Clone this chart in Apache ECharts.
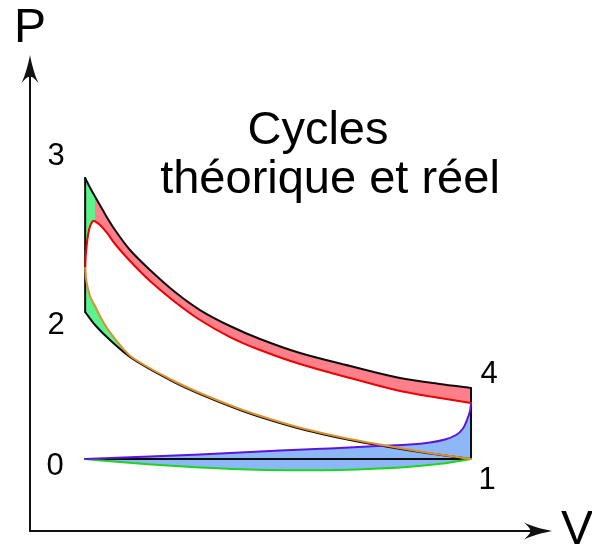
<!DOCTYPE html>
<html>
<head>
<meta charset="utf-8">
<script src="https://cdn.jsdelivr.net/npm/echarts@6/dist/echarts.min.js"></script>
<style>
  html, body { margin: 0; padding: 0; background: #ffffff; }
  #chart { width: 592px; height: 549px; }
</style>
</head>
<body>
<div id="chart"></div>
<script>
// P–V diagram of a four-stroke engine: theoretical cycle (black) and real cycle (colours).
// Volume V and pressure P in arbitrary units (V = 1 at TDC, V = 8 at BDC, P = 1 atmospheric).

const STATE_LABELS = ['0', '1', '2', '3', '4'];
const STATE_POINTS = [[1, 1], [8, 1], [1, 3.042], [1, 4.903], [8, 1.986]];

// Theoretical cycle
const THEO_EXPANSION = [   // 3 -> 4
  [1.000, 4.903], [1.088, 4.771], [1.179, 4.646], [1.361, 4.403], [1.542, 4.181],
  [1.814, 3.903], [2.177, 3.625], [2.630, 3.319], [3.084, 3.069], [3.628, 2.847],
  [4.172, 2.667], [4.898, 2.472], [5.805, 2.292], [6.712, 2.125], [7.438, 2.042],
  [8.000, 1.986]
];
const THEO_COMPRESSION = [ // 2 -> 1
  [1.000, 3.042], [1.179, 2.861], [1.451, 2.653], [1.868, 2.389], [2.540, 2.097],
  [3.084, 1.903], [3.810, 1.681], [4.354, 1.542], [4.989, 1.403], [5.624, 1.292],
  [6.295, 1.194], [7.075, 1.097], [8.000, 1.000]
];
const THEO_COMBUSTION = [[1, 3.042], [1, 4.903]];  // 2 -> 3
const THEO_RELEASE = [[8, 1.986], [8, 1]];         // 4 -> 1
const THEO_EXCHANGE = [[1, 1], [8, 1]];            // 0 <-> 1

// Real cycle
const REAL_EXPANSION = [   // ignition, pressure peak, expansion
  [1.000, 3.653], [1.009, 3.806], [1.027, 3.958], [1.056, 4.125], [1.094, 4.243],
  [1.143, 4.306], [1.179, 4.301], [1.270, 4.250], [1.397, 4.139], [1.542, 3.986],
  [1.814, 3.750], [2.177, 3.472], [2.630, 3.181], [3.084, 2.931], [3.628, 2.694],
  [4.172, 2.514], [4.898, 2.319], [5.805, 2.125], [6.712, 1.944], [7.438, 1.847],
  [8.000, 1.778]
];
const REAL_COMPRESSION = [ // from ignition back down to BDC
  [1.000, 3.653], [1.025, 3.458], [1.088, 3.264], [1.179, 3.125], [1.288, 2.958],
  [1.397, 2.819], [1.633, 2.583], [1.868, 2.403], [2.540, 2.111], [3.084, 1.917],
  [3.810, 1.694], [4.354, 1.556], [4.989, 1.417], [5.624, 1.306], [6.295, 1.208],
  [7.075, 1.104], [8.000, 1.000]
];
const REAL_EXHAUST = [
  [8.000, 1.778], [7.982, 1.667], [7.927, 1.542], [7.855, 1.424], [7.728, 1.333],
  [7.528, 1.271], [7.256, 1.229], [6.893, 1.201], [6.295, 1.181], [5.442, 1.146],
  [4.535, 1.118], [3.810, 1.090], [3.084, 1.063], [2.177, 1.035], [1.000, 1.000]
];
const REAL_INTAKE = [
  [1.000, 1.000], [1.633, 0.958], [2.413, 0.914], [3.084, 0.882], [3.810, 0.857],
  [4.717, 0.843], [5.624, 0.847], [6.349, 0.867], [6.893, 0.892], [7.438, 0.933],
  [8.000, 1.000]
];

// Indices where the fills split the curves
const SPLIT_THEO_EXP = 2;   // green / red boundary on the theoretical expansion
const SPLIT_REAL_EXP = 6;   // same boundary on the real expansion
const SPLIT_THEO_COMP = 3;  // where the real compression joins the theoretical one
const SPLIT_REAL_COMP = 7;

const LABEL_OFFSETS = [[-30, 7], [16, 21], [-29, 13], [-29, -22], [18, -14]];

const COLORS = {
  axis: '#111111', theo: '#0d0d0d', text: '#000000',
  red: '#ee0000', orange: '#dc9030', purple: '#5a16dc', green: '#1ed41e',
  fillGreen: '#5cf28c', fillRed: '#ff7f8b', fillBlue: '#8db8f8'
};
const FONT = '"Liberation Sans", Arial, sans-serif';
const ARROW = 'path://M8.5,0C10,8 13,20 17,28C13,23.5 10.5,21.5 8.5,21.5C6.5,21.5 4,23.5 0,28C4,20 7,8 8.5,0Z';

// ---- smooth path helpers (pixel space) ----
function dist(a, b) { return Math.hypot(b[0] - a[0], b[1] - a[1]); }
function tangentsOf(pts) {
  const n = pts.length, T = [];
  for (let i = 0; i < n; i++) {
    const a = pts[Math.max(0, i - 1)], b = pts[Math.min(n - 1, i + 1)];
    const l0 = i > 0 ? dist(pts[i - 1], pts[i]) : 0;
    const l1 = i < n - 1 ? dist(pts[i], pts[i + 1]) : 0;
    const s = (l0 + l1) || 1;
    T.push([(b[0] - a[0]) / s, (b[1] - a[1]) / s]);
  }
  return T;
}
function fmt(p) { return p[0].toFixed(2) + ' ' + p[1].toFixed(2); }
function trace(cmds, pts, from, to, move) {
  const T = tangentsOf(pts);
  const step = to >= from ? 1 : -1;
  cmds.push((move ? 'M' : 'L') + fmt(pts[from]));
  for (let i = from; i !== to; i += step) {
    const j = i + step, p = pts[i], q = pts[j], L = dist(p, q) / 3;
    const c1 = [p[0] + step * T[i][0] * L, p[1] + step * T[i][1] * L];
    const c2 = [q[0] - step * T[j][0] * L, q[1] - step * T[j][1] * L];
    cmds.push('C' + fmt(c1) + ' ' + fmt(c2) + ' ' + fmt(q));
  }
}
function toPx(api, arr) { return arr.map(function (d) { return api.coord(d); }); }
function last(arr) { return arr.length - 1; }

function pathSeries(name, z, data, build, style) {
  return {
    type: 'custom', name: name, z: z, silent: true, clip: false,
    coordinateSystem: 'cartesian2d',
    data: data,
    renderItem: function (params, api) {
      if (params.dataIndex !== 0) return null;
      const cmds = [];
      build(api, cmds);
      return { type: 'path', shape: { pathData: cmds.join(' ') }, style: style };
    }
  };
}
function strokeSeries(name, z, arr, color, width) {
  return pathSeries(name, z, arr, function (api, cmds) {
    const p = toPx(api, arr);
    trace(cmds, p, 0, last(p), true);
  }, { fill: 'none', stroke: color, lineWidth: width, lineJoin: 'round', lineCap: 'round' });
}

// ---- filled areas between the two cycles ----
const fillTopGreen = pathSeries('gain-combustion', 1, REAL_EXPANSION.slice(0, SPLIT_REAL_EXP + 1), function (api, cmds) {
  const te = toPx(api, THEO_EXPANSION), re = toPx(api, REAL_EXPANSION);
  cmds.push('M' + fmt(re[0]));
  trace(cmds, te, 0, SPLIT_THEO_EXP, false);
  trace(cmds, re, SPLIT_REAL_EXP, 0, false);
  cmds.push('Z');
}, { fill: COLORS.fillGreen });

const fillRed = pathSeries('loss-expansion', 1, REAL_EXPANSION.slice(SPLIT_REAL_EXP), function (api, cmds) {
  const te = toPx(api, THEO_EXPANSION), re = toPx(api, REAL_EXPANSION);
  trace(cmds, te, SPLIT_THEO_EXP, last(te), true);
  trace(cmds, re, last(re), SPLIT_REAL_EXP, false);
  cmds.push('Z');
}, { fill: COLORS.fillRed });

const fillBottomGreen = pathSeries('advance-ignition', 1, REAL_COMPRESSION.slice(0, SPLIT_REAL_COMP + 1), function (api, cmds) {
  const tc = toPx(api, THEO_COMPRESSION), rc = toPx(api, REAL_COMPRESSION);
  cmds.push('M' + fmt(rc[0]));
  trace(cmds, tc, 0, SPLIT_THEO_COMP, false);
  trace(cmds, rc, SPLIT_REAL_COMP, 0, false);
  cmds.push('Z');
}, { fill: COLORS.fillGreen });

const fillBlue = pathSeries('pumping-loop', 1, REAL_INTAKE, function (api, cmds) {
  const ri = toPx(api, REAL_INTAKE), rx = toPx(api, REAL_EXHAUST);
  trace(cmds, ri, 0, last(ri), true);
  trace(cmds, rx, 0, last(rx), false);
  cmds.push('Z');
}, { fill: COLORS.fillBlue });

const labelStyle = { show: true, position: 'inside', formatter: '{b}', fontSize: 31,
  color: COLORS.text, fontFamily: FONT, textBorderWidth: 0, opacity: 1 };

const chart = echarts.init(document.getElementById('chart'));
chart.setOption({
  animation: false,
  backgroundColor: '#ffffff',
  textStyle: { fontFamily: FONT },
  grid: { left: 30, right: 54, top: 69, bottom: 18, containLabel: false, outerBoundsMode: 'none' },
  xAxis: {
    type: 'value', min: 0, max: 9.215,
    name: 'V', nameLocation: 'end', nameGap: 23,
    nameTextStyle: { fontSize: 48, color: COLORS.text, fontFamily: FONT, padding: [6, 0, 0, 0] },
    axisLine: { show: true, onZero: false, symbol: ['none', ARROW], symbolSize: [18, 28],
      lineStyle: { color: COLORS.axis, width: 2 } },
    axisTick: { show: false }, axisLabel: { show: false }, splitLine: { show: false }
  },
  yAxis: {
    type: 'value', min: 0, max: 6.4167,
    name: 'P', nameLocation: 'end', nameGap: 16,
    nameTextStyle: { fontSize: 48, lineHeight: 48, color: COLORS.text, fontFamily: FONT },
    axisLine: { show: true, onZero: false, symbol: ['none', ARROW], symbolSize: [18, 28],
      lineStyle: { color: COLORS.axis, width: 2 } },
    axisTick: { show: false }, axisLabel: { show: false }, splitLine: { show: false }
  },
  graphic: [
    { type: 'text', x: 318, y: 131, silent: true,
      style: { text: 'Cycles', font: '47px ' + FONT, fill: COLORS.text,
        align: 'center', verticalAlign: 'middle', textAlign: 'center', textVerticalAlign: 'middle' } },
    { type: 'text', x: 330, y: 180, silent: true,
      style: { text: 'théorique et réel', font: '47px ' + FONT, fill: COLORS.text,
        align: 'center', verticalAlign: 'middle', textAlign: 'center', textVerticalAlign: 'middle' } }
  ],
  series: [
    fillBlue, fillRed, fillTopGreen, fillBottomGreen,
    strokeSeries('theo-exchange', 2, THEO_EXCHANGE, COLORS.theo, 2),
    strokeSeries('theo-combustion', 2, THEO_COMBUSTION, COLORS.theo, 2),
    strokeSeries('theo-release', 2, THEO_RELEASE, COLORS.theo, 2),
    strokeSeries('theo-expansion', 2, THEO_EXPANSION, COLORS.theo, 2),
    strokeSeries('theo-compression', 2, THEO_COMPRESSION, COLORS.theo, 2),
    strokeSeries('real-intake', 3, REAL_INTAKE, COLORS.green, 2),
    strokeSeries('real-exhaust', 3, REAL_EXHAUST, COLORS.purple, 2),
    strokeSeries('real-expansion', 3, REAL_EXPANSION, COLORS.red, 2),
    strokeSeries('real-compression', 4, REAL_COMPRESSION, COLORS.orange, 2),
    {
      type: 'scatter', name: 'states', z: 5, silent: true,
      symbolSize: 0.1, itemStyle: { color: 'transparent', opacity: 1 },
      data: STATE_POINTS.map(function (p, i) {
        return { value: p, name: STATE_LABELS[i],
          label: Object.assign({}, labelStyle, { offset: LABEL_OFFSETS[i] }) };
      }),
      label: labelStyle
    }
  ]
});
</script>
</body>
</html>
